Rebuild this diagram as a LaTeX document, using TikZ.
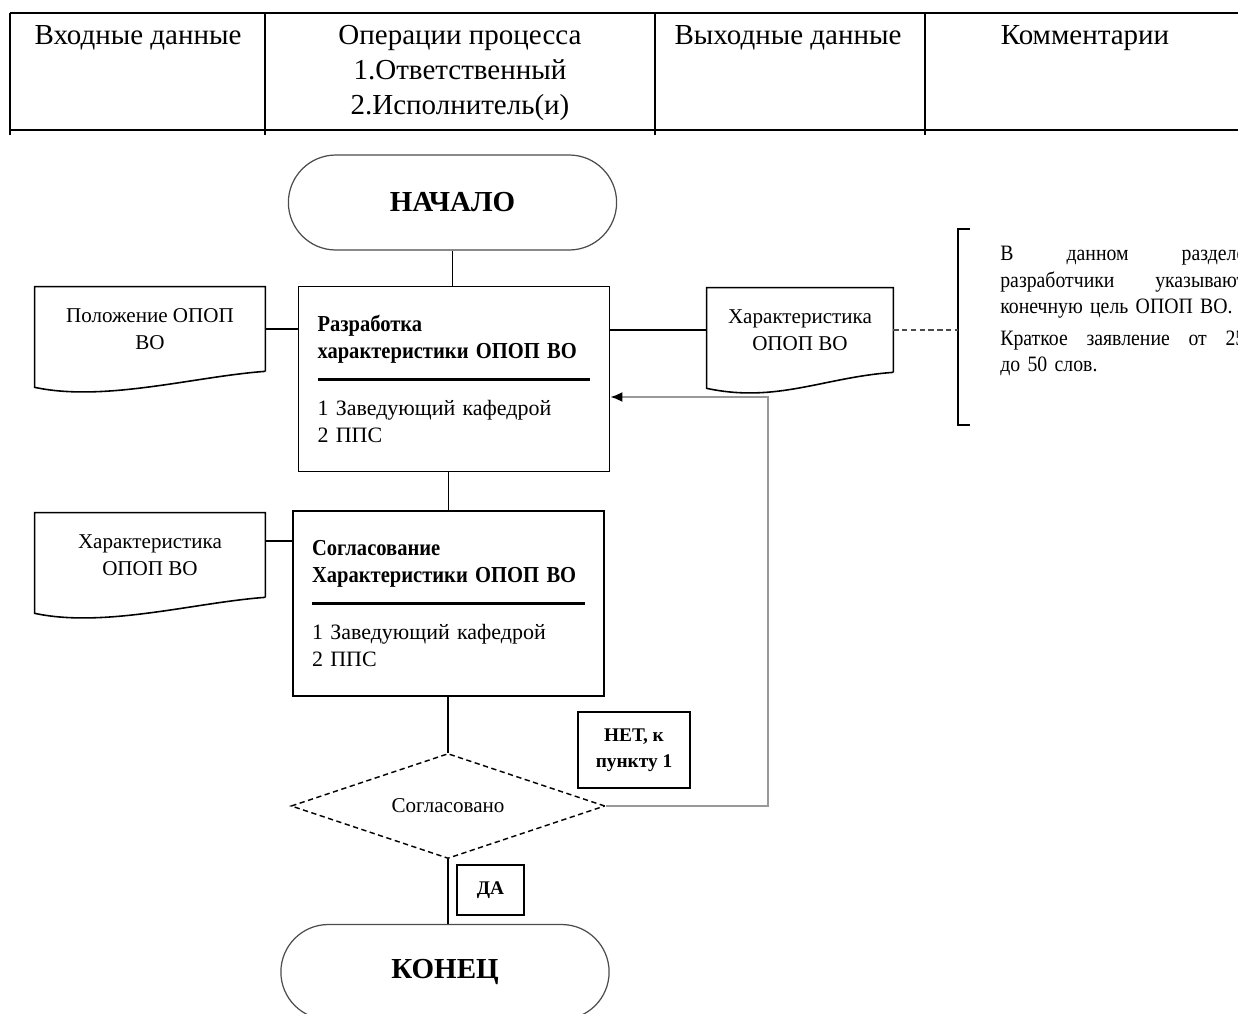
\documentclass[tikz,border=0pt]{standalone}
\usepackage{fontspec}
\setmainfont{Liberation Serif}
\newfontfamily\narrowfont{Liberation Serif}[FakeStretch=0.9]
\usepackage{tikz}
\usetikzlibrary{arrows.meta,shapes.geometric,shapes.misc}
\tikzset{
    headnode/.style={align=center,inner sep=0pt,font=\fontsize{16.5}{19.8}\selectfont},
    termnode/.style={rounded rectangle,draw=black!70,line width=0.7pt,minimum width=6.8cm,minimum height=1.9cm,font=\fontsize{16.5}{20}\selectfont\bfseries},
    procnode/.style={rectangle,draw,line width=1.1pt,text width=5.46cm,inner xsep=0.38cm,inner ysep=0pt,minimum height=3.7cm,align=left,font=\fontsize{12.5}{15.5}\selectfont},
    docnode/.style={rectangle,minimum width=4.6cm,minimum height=1.68cm,inner sep=0pt,align=center,font=\fontsize{12}{15.5}\selectfont},
    decnode/.style={diamond,aspect=3,draw,densely dashed,line width=0.8pt,minimum width=6.28cm,minimum height=2.1cm,inner sep=0pt,font=\fontsize{12}{14}\selectfont},
    labelnode/.style={rectangle,draw,line width=1.1pt,align=center,inner sep=0pt,font=\fontsize{11}{15}\selectfont\bfseries},
    commnode/.style={align=left,text width=4.9cm,inner sep=0pt,font=\narrowfont\fontsize{12.5}{15}\selectfont},
    link/.style={line width=0.9pt},
    backlink/.style={line width=1pt,draw=black!40,-{Latex[length=2.4mm,width=2mm,color=black]}}
}
\newcommand{\docoutline}[1]{%
  \draw[link] (#1.south east) -- (#1.north east) -- (#1.north west) -- ([yshift=-0.32cm]#1.south west)
    .. controls +(1.4cm,-0.3cm) and +(-1.4cm,-0.1cm) .. (#1.south east);}
\newcommand{\procrule}{\rule[0.5ex]{5.46cm}{1.6pt}}
\newcommand{\proctitle}[1]{{\narrowfont\fontsize{13}{15.5}\selectfont\bfseries #1}}
\newcommand{\fullline}[1]{\leavevmode\hbox to 4.9cm{#1}}

\begin{document}
\begin{tikzpicture}[x=0.02cm,y=-0.02cm]
\useasboundingbox (0,0) rectangle (1238,1014);

% header table
\draw[line width=1.5pt] (10,13) -- (1238,13);
\draw[line width=1.5pt] (10,130) -- (1238,130);
\foreach \xc in {10,265,655,925}
    \draw[line width=0.9pt] (\xc,13) -- (\xc,135);
\node[headnode] (hin) at (138,38) {Входные данные};
\node[headnode] (hop) at (460,73) {Операции процесса\\1.Ответственный\\2.Исполнитель(и)};
\node[headnode] (hout) at (788,38) {Выходные данные};
\node[headnode] (hcom) at (1085,38) {Комментарии};

% flow
\node[termnode] (start) at (452.5,202.5) {НАЧАЛО};
\node[procnode] (dev) at (454,379) {\proctitle{Разработка}\\\proctitle{характеристики ОПОП ВО}\\\procrule\\[1pt]1 Заведующий кафедрой\\2 ППС};
\node[procnode] (agr) at (448.5,603.5) {\proctitle{Согласование}\\\proctitle{Характеристики ОПОП ВО}\\\procrule\\[1pt]1 Заведующий кафедрой\\2 ППС};
\node[decnode] (agree) at (448,806) {Согласовано};
\node[termnode] (finish) at (445,972) {КОНЕЦ};

\node[docnode] (in1) at (150,329) {Положение ОПОП\\ВО};
\node[docnode] (in2) at (150,555) {Характеристика\\ОПОП ВО};
\node[docnode,minimum width=3.72cm] (out1) at (800,330) {Характеристика\\ОПОП ВО};
\docoutline{in1}
\docoutline{in2}
\docoutline{out1}

\node[labelnode,minimum width=2.24cm,minimum height=1.52cm] (no) at (634,750) {НЕТ, к\\пункту 1};
\node[labelnode,minimum width=1.34cm,minimum height=1cm] (yes) at (490.5,890) {ДА};

% comment
\coordinate (brk) at (958,330);
\draw[line width=1.6pt] (970,229) -- (958,229) -- (958,425) -- (970,425);
\node[commnode,anchor=north west] (comm) at (1000,246) {\fullline{В\hfill данном\hfill разделе}\\\fullline{разработчики\hfill указывают}\\конечную цель ОПОП ВО.\\[3pt]\fullline{Краткое\hfill заявление\hfill от\hfill 25}\\до 50 слов.};

% connectors
\draw[link] (start.south) -- (start.south |- dev.north);
\draw[link] (dev.south -| agr.north) -- (agr.north);
\draw[link] (agr.south -| agree.north) -- (agree.north);
\draw[link] (agree.south) -- (agree.south |- finish.north);
\draw[link] (in1.east) -- (in1.east -| dev.west);
\draw[link] (dev.east |- out1.west) -- (out1.west);
\draw[link] ([yshift=0.28cm]in2.east) -- ([yshift=0.28cm]in2.east -| agr.west);
\draw[link,densely dashed,draw=black!70] (out1.east) -- (brk);
\coordinate (loop) at (768,397);
\draw[backlink] (agree.east) -| (loop) -- (loop -| dev.east);

\end{tikzpicture}
\end{document}
